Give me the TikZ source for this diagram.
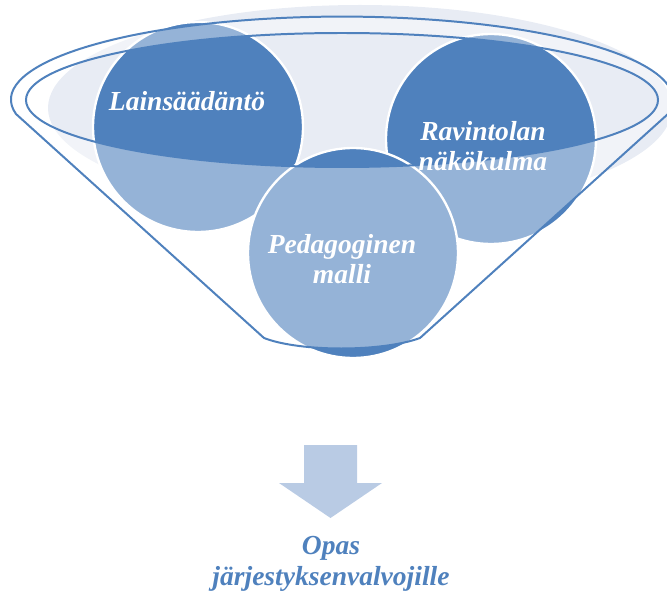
\documentclass[tikz,border=0pt]{standalone}
\usepackage{fontspec}
\setmainfont{Liberation Serif}
\usetikzlibrary{positioning}
\definecolor{accent}{HTML}{4F81BD}
\definecolor{haze}{HTML}{E8ECF4}
\definecolor{pale}{HTML}{B9CBE4}

\begin{document}
\begin{tikzpicture}[
  x=0.03cm,y=-0.03cm,
  font=\fontsize{23.5}{26}\selectfont\bfseries\itshape,
  blob/.style={circle,fill=accent,draw=white,line width=2pt,minimum size=6.3cm,inner sep=0pt},
  rim/.style={draw=accent,line width=1.7pt},
  lbl/.style={text=white,align=center,inner sep=0pt},
  reslbl/.style={text=accent,align=center,inner sep=0pt},
]
\useasboundingbox (0,0) rectangle (667,595);

% soft haze behind the funnel mouth
\fill[haze] (360,108) ellipse[x radius=312,y radius=103];

% the three circles
\node[blob] (cl) at (198,127) {};
\node[blob] (cr) at (491,139) {};
\node[blob] (cb) at (353,253) {};

% funnel body (lightens what lies inside)
\path[fill=white,fill opacity=0.4,even odd rule]
  (16,114) arc[start angle=170,end angle=370,x radius=331,y radius=83]
  -- (420,338) .. controls (382,352) and (300,352) .. (264,338) -- cycle
  (342,100) ellipse[x radius=316,y radius=67];

% funnel outline
\draw[rim] (16,114) arc[start angle=170,end angle=370,x radius=331,y radius=83]
  -- (420,338) .. controls (382,352) and (300,352) .. (264,338) -- cycle;
\draw[rim] (342,100) ellipse[x radius=316,y radius=67];

% labels
\node[lbl] (law)  at (187,101) {Lainsäädäntö};
\node[lbl] (rest) at (483,146) {Ravintolan\\näkökulma};
\node[lbl] (peda) at (342,259) {Pedagoginen\\malli};

% block arrow and result
\fill[pale] (304,445) -- (357,445) -- (357,483) -- (382,483) -- (330.5,518)
  -- (279,483) -- (304,483) -- cycle;
\node[reslbl] (guide) at (331,564) {Opas\\järjestyksenvalvojille};
\end{tikzpicture}
\end{document}
